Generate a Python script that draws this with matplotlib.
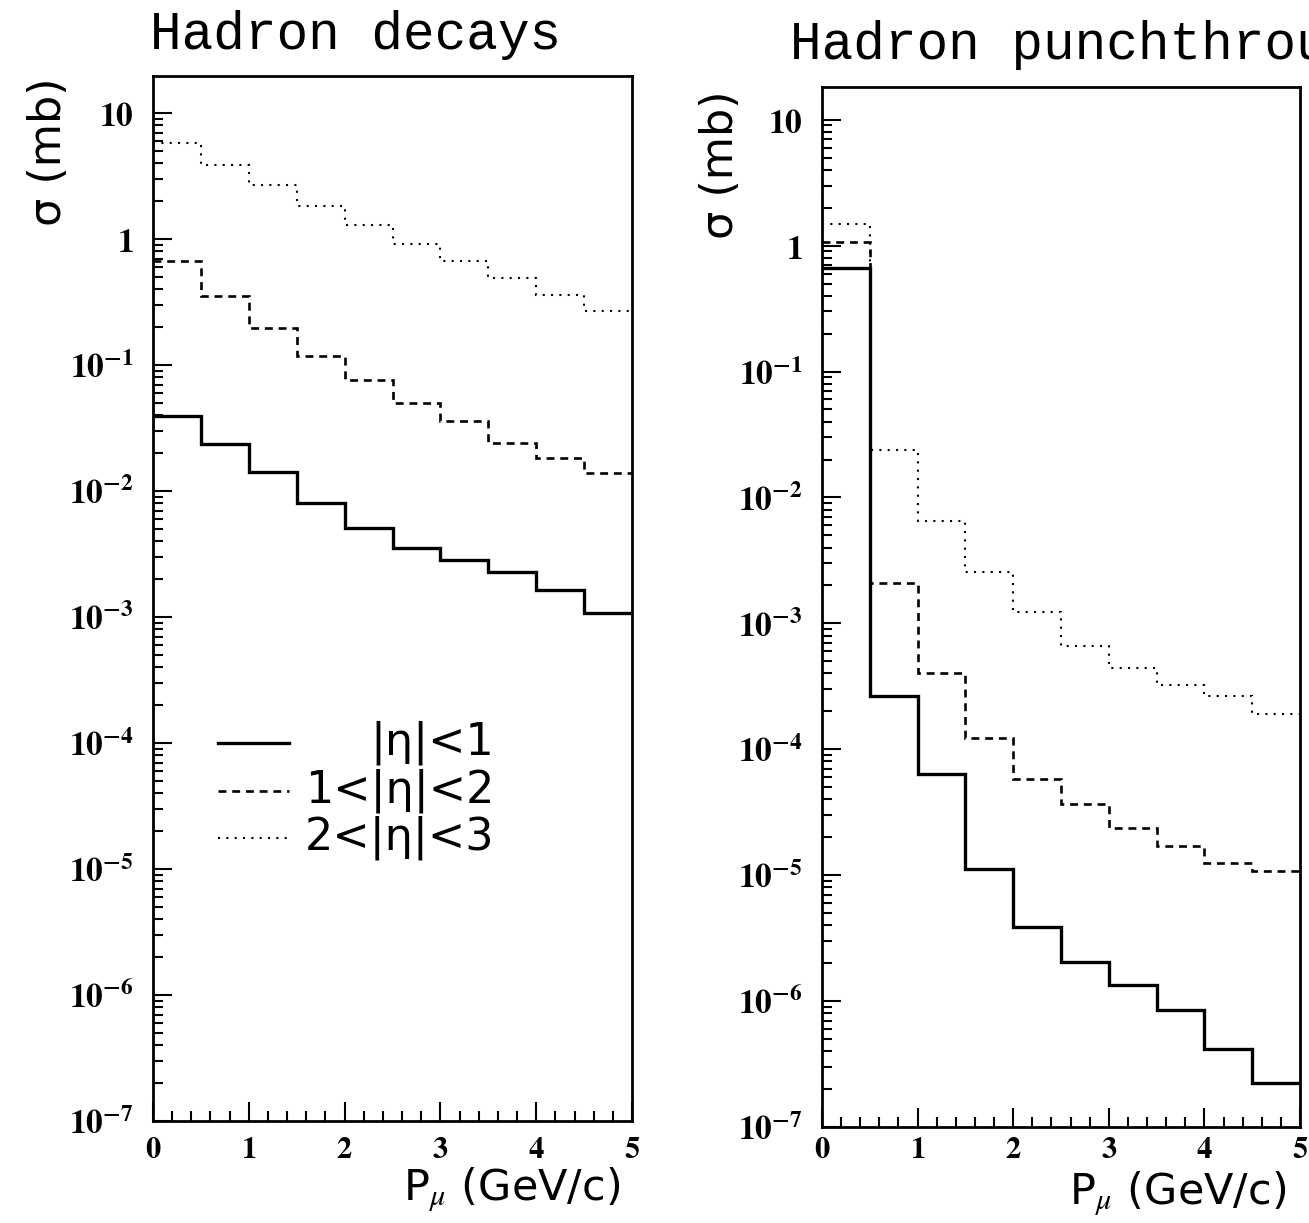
import matplotlib
matplotlib.use("Agg")
import matplotlib.pyplot as plt
from matplotlib.ticker import FixedLocator, MultipleLocator, FuncFormatter, NullFormatter
from matplotlib.lines import Line2D
import numpy as np

plt.rcParams['mathtext.fontset'] = 'stix'

# bin edges in P_mu (GeV/c)
edges = [0, 0.5, 1, 1.5, 2, 2.5, 3, 3.5, 4, 4.5, 5]

# Hadron decays, sigma (mb)
dec_eta1 = [0.0394, 0.0236, 0.0142, 0.0080, 0.0051, 0.00353, 0.00283, 0.00228, 0.00164, 0.00108]
dec_eta2 = [0.67, 0.35, 0.197, 0.118, 0.076, 0.050, 0.036, 0.024, 0.0183, 0.0139]
dec_eta3 = [5.8, 3.9, 2.7, 1.83, 1.29, 0.91, 0.67, 0.49, 0.36, 0.27]

# Hadron punchthrough, sigma (mb)
pun_eta1 = [0.665, 2.63e-4, 6.4e-5, 1.12e-5, 3.9e-6, 2.04e-6, 1.34e-6, 8.5e-7, 4.2e-7, 2.24e-7]
pun_eta2 = [1.07, 2.11e-3, 4.07e-4, 1.23e-4, 5.8e-5, 3.68e-5, 2.38e-5, 1.71e-5, 1.25e-5, 1.08e-5]
pun_eta3 = [1.49, 0.0237, 0.0065, 0.00254, 0.00122, 6.66e-4, 4.46e-4, 3.26e-4, 2.63e-4, 1.92e-4]

labels = ['|η|<1', '1<|η|<2', '2<|η|<3']
styles = ['-', (0, (3, 2.2)), (0, (1, 3))]
widths = [2.4, 1.9, 1.5]

W, H = 1309, 1223
fig = plt.figure(figsize=(W / 100, H / 100), dpi=100)

# axes boxes in pixels: left, top, right, bottom
boxes = [(153, 76, 632, 1121), (822, 87, 1300, 1127)]
ytops = [10 ** 1.294, 10 ** 1.26]
titles = ['Hadron decays', 'Hadron punchthrough']
title_xy = [(150, 35), (790, 45)]
data = [(dec_eta1, dec_eta2, dec_eta3), (pun_eta1, pun_eta2, pun_eta3)]
xlab_cx = [512, 1178]
xlab_top = [1166, 1170]
xpads = [10, 6]
ylab_x = [70, 742]
ylab_cy = [152, 165]


def ylab(v, pos):
    e = int(round(np.log10(v)))
    if e == 1:
        return r'$\mathbf{10}$'
    if e == 0:
        return r'$\mathbf{1}$'
    return r'$\mathbf{10^{%d}}$' % e


for i in range(2):
    l, t, r, b = boxes[i]
    ax = fig.add_axes([l / W, 1 - b / H, (r - l) / W, (b - t) / H])
    for vals, ls, lw in zip(data[i], styles, widths):
        ax.stairs(vals, edges, color='black', linestyle=ls, linewidth=lw, baseline=None)
    ax.set_yscale('log')
    ax.set_xlim(0, 5)
    ax.set_ylim(1e-7, ytops[i])
    ax.yaxis.set_major_locator(FixedLocator([10.0 ** k for k in range(-7, 2)]))
    ax.yaxis.set_minor_locator(FixedLocator([m * 10.0 ** k for k in range(-7, 1) for m in range(2, 10)]))
    ax.yaxis.set_major_formatter(FuncFormatter(ylab))
    ax.yaxis.set_minor_formatter(NullFormatter())
    ax.xaxis.set_major_locator(MultipleLocator(1))
    ax.xaxis.set_minor_locator(MultipleLocator(0.2))
    ax.xaxis.set_major_formatter(FuncFormatter(lambda v, p: r'$\mathbf{%d}$' % v))
    ax.tick_params(which='both', direction='in', top=False, right=False, width=1.5)
    ax.tick_params(which='major', length=14)
    ax.tick_params(which='minor', length=7)
    ax.tick_params(axis='y', which='major', labelsize=24, pad=14)
    ax.tick_params(axis='x', which='major', labelsize=22, pad=xpads[i])
    for s in ax.spines.values():
        s.set_linewidth(2)
    ax.set_ylabel('σ (mb)', fontsize=32, family='DejaVu Sans')
    ax.yaxis.set_label_coords((ylab_x[i] - l) / (r - l), 1 - (ylab_cy[i] - t) / (b - t))
    ax.set_xlabel(r'P$_\mu$ (GeV/c)', fontsize=31, family='DejaVu Sans')
    ax.xaxis.set_label_coords((xlab_cx[i] - l) / (r - l), -(xlab_top[i] - b) / (b - t))
    fig.text(title_xy[i][0] / W, 1 - title_xy[i][1] / H, titles[i], fontsize=38,
             family='Liberation Mono', va='center', ha='left')

    if i == 0:
        rows = [0.362, 0.316, 0.271]
        for lab, ls, lw, yy in zip(labels, styles, widths, rows):
            ax.add_line(Line2D([0.136, 0.283], [yy, yy], transform=ax.transAxes,
                               color='black', linestyle=ls, linewidth=lw))
            ax.text(0.713, yy, lab, transform=ax.transAxes, fontsize=32,
                    family='DejaVu Sans', ha='right', va='center')

fig.savefig('out.png', dpi=100)
